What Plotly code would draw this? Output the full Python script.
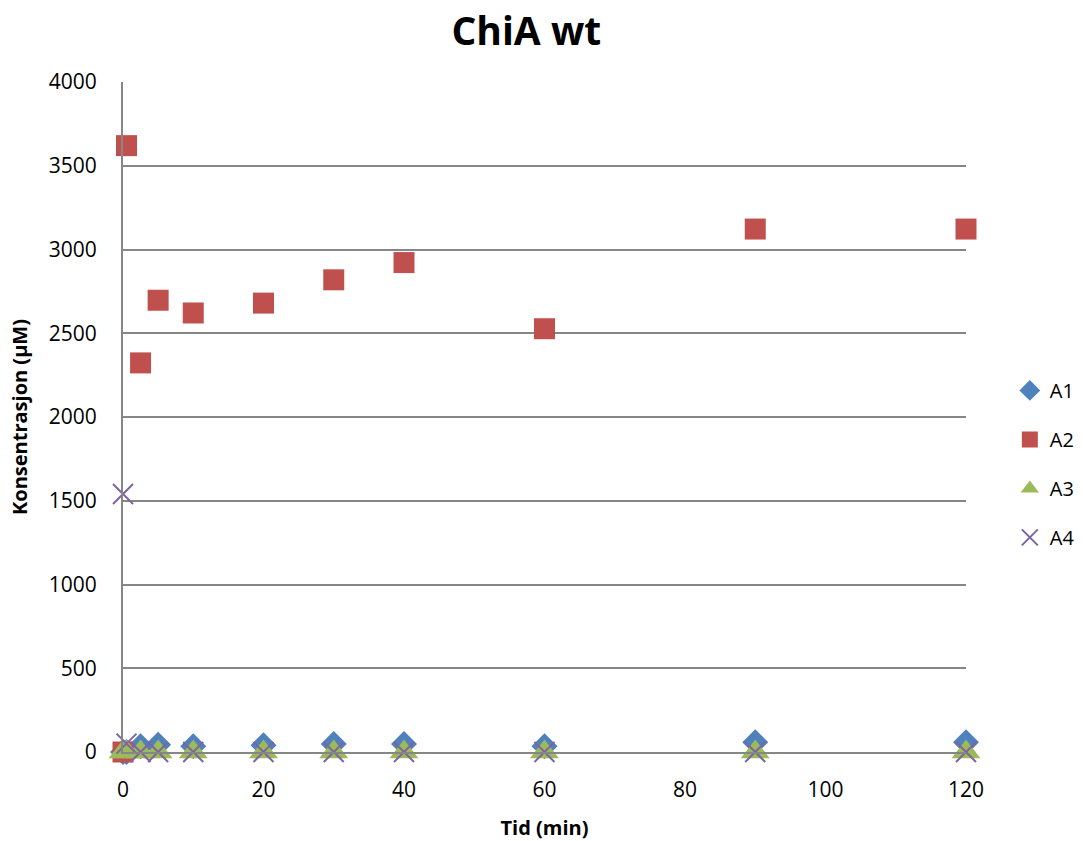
import plotly.graph_objects as go

# Sampling times (min)
tid = [0, 0.5, 2.5, 5, 10, 20, 30, 40, 60, 90, 120]

# Concentrations (µM) per product
a1 = [0, 0, 34, 43, 35, 40, 48, 48, 35, 58, 58]
a2 = [0, 3620, 2323, 2697, 2621, 2680, 2819, 2922, 2527, 3122, 3122]
a3 = [0, 0, 0, 0, 0, 0, 0, 0, 0, 0, 0]
a4 = [1540, 50, 0, 0, 0, 0, 0, 0, 0, 0, 0]

series = [
    ("A1", a1, "diamond", "#4F81BD", 20),
    ("A2", a2, "square", "#C0504D", 21),
    ("A3", a3, "triangle-up", "#9BBB59", 25),
    ("A4", a4, "x-thin", "#8064A2", 20),
]

fig = go.Figure()
for name, vals, sym, col, size in series:
    marker = dict(symbol=sym, size=size, color=col)
    if sym == "x-thin":
        marker["line"] = dict(color=col, width=2)
    else:
        marker["line"] = dict(width=0)
    fig.add_trace(go.Scatter(x=tid, y=vals, mode="markers", name=name,
                             legendgroup=name, marker=marker, cliponaxis=False))

font_family = "Open Sans, Lato, sans-serif"
fig.update_layout(
    width=1083, height=841,
    paper_bgcolor="white", plot_bgcolor="white",
    margin=dict(l=123, r=117, t=82, b=89, autoexpand=False),
    title=dict(text="<b>ChiA wt</b>", x=0.486, xanchor="center", y=0.963,
               yanchor="middle", font=dict(size=39, color="black", family=font_family)),
    font=dict(family=font_family, color="black", size=21),
    showlegend=True,
    legend=dict(x=1.052, xanchor="left", y=0.43, yanchor="middle",
                font=dict(size=20), tracegroupgap=20, itemwidth=30),
    xaxis=dict(range=[0, 120], dtick=20, showgrid=False, zeroline=False,
               showline=True, linecolor="#868686", linewidth=2,
               ticks="", ticklabelstandoff=18, tickfont=dict(size=21),
               title=dict(text="<b>Tid (min)</b>", font=dict(size=20), standoff=22)),
    yaxis=dict(range=[0, 4000], dtick=500, showgrid=True, gridcolor="#868686",
               gridwidth=1.5, zeroline=False, showline=True, linecolor="#868686",
               linewidth=2, ticks="", ticklabelstandoff=20, tickfont=dict(size=21),
               title=dict(text="<b>Konsentrasjon (µM)</b>", font=dict(size=20), standoff=16)),
)

fig.write_html("out.html")
